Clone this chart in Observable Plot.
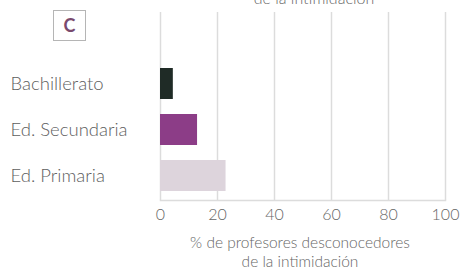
<!DOCTYPE html>
<html><head><meta charset="utf-8">
<script src="https://cdn.jsdelivr.net/npm/d3@7"></script>
<script src="https://cdn.jsdelivr.net/npm/@observablehq/plot@0.6"></script>
<style>
body{margin:0;background:#fff;font-family:Lato,"DejaVu Sans",sans-serif;}
#wrap{position:relative;width:468px;height:277px;overflow:hidden;}
#top{position:absolute;left:0;width:628px;text-align:center;top:-12px;font-size:16px;color:#666;font-weight:300;}
#box{position:absolute;left:53px;top:10px;width:31px;height:29px;border:1px solid #b5b5b5;color:#7a4a6e;font-size:18px;font-weight:bold;text-align:center;line-height:29px;}
#cap{position:absolute;left:0;width:600px;text-align:center;top:233px;font-size:15.5px;line-height:19px;color:#666;font-weight:300;}
</style></head>
<body><div id="wrap">
<div id="top">de la intimidación</div>
<div id="box">C</div>
<div id="chart"></div>
<div id="cap">% de profesores desconocedores<br>de la intimidación</div>
</div>
<script>
const levels = ["Bachillerato", "Ed. Secundaria", "Ed. Primaria"];
const values = [4.5, 13, 23];
const colors = ["#1f2b26", "#8c3d87", "#ddd4dc"];
const ticks = [0, 20, 40, 60, 80, 100];

const data = levels.map((l, i) => ({level: l, value: values[i], color: colors[i]}));

const plot = Plot.plot({
  width: 468, height: 277,
  marginLeft: 160, marginRight: 23, marginTop: 12, marginBottom: 77,
  style: {fontFamily: "Lato, sans-serif", background: "#fff", fontWeight: 300},
  x: {domain: [0, 100], ticks},
  y: {domain: levels, paddingInner: 0.33, paddingOuter: 0.707, align: 0.86},
  marks: [
    Plot.ruleX(ticks, {stroke: "#dcdcdc", strokeWidth: 1.5}),
    Plot.frame({anchor: "bottom", stroke: "#dcdcdc", strokeWidth: 1.5}),
    Plot.barX(data, {x: "value", y: "level", fill: "color"}),
    Plot.axisX({ticks, tickSize: 0, tickPadding: 8, fontSize: 16, color: "#666", label: null}),
    Plot.axisY({tickSize: 0, tickPadding: 0, textAnchor: "start", dx: -150, fontSize: 18.5, color: "#5e5e5e", label: null})
  ]
});
document.getElementById("chart").appendChild(plot);
</script>
</body></html>
